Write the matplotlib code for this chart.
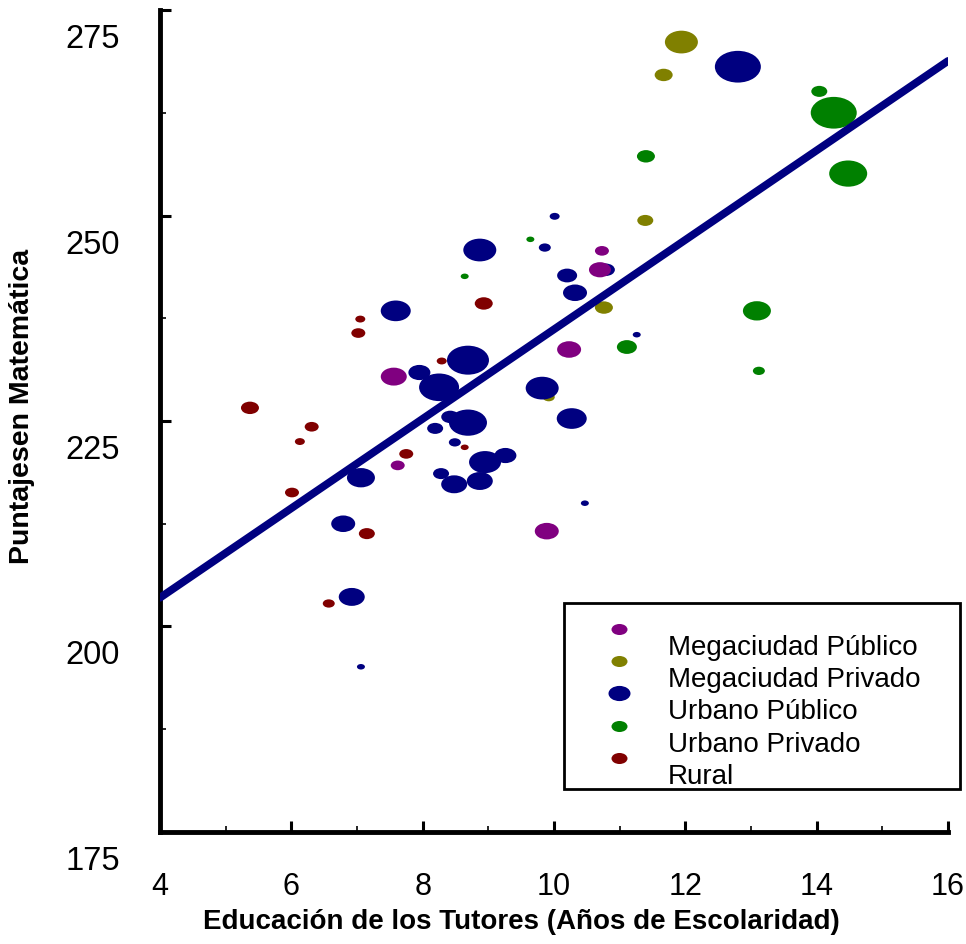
import numpy as np
import matplotlib
matplotlib.use("Agg")
import matplotlib.pyplot as plt
from matplotlib.path import Path
from matplotlib.transforms import ScaledTranslation

plt.rcParams['font.family'] = ['Liberation Sans', 'DejaVu Sans']

# ---- data ----
groups = ["Megaciudad Público", "Megaciudad Privado", "Urbano Público",
          "Urbano Privado", "Rural"]

mega_pub_x = [10.73, 10.70, 10.23, 7.56, 7.62, 9.89]
mega_pub_y = [245.7, 243.4, 233.7, 230.4, 219.6, 211.6]
mega_pub_size = [14, 22, 24, 26, 14, 24]

mega_priv_x = [11.94, 11.67, 11.39, 10.76, 9.92]
mega_priv_y = [271.1, 267.1, 249.4, 238.8, 227.9]
mega_priv_size = [33, 18, 16, 18, 12]

urb_pub_x = [12.80, 10.01, 8.87, 9.86, 10.79, 10.20, 10.32, 7.59, 11.26, 8.69,
             7.95, 8.25, 9.82, 10.27, 8.42, 8.69, 8.19, 8.49, 9.26, 8.95,
             8.28, 7.06, 8.48, 8.87, 10.47, 6.79, 6.92, 7.06]
urb_pub_y = [268.1, 249.9, 245.8, 246.1, 243.4, 242.7, 240.6, 238.4, 235.5, 232.4,
             230.9, 229.1, 229.0, 225.3, 225.5, 224.8, 224.1, 222.4, 220.8, 220.0,
             218.6, 218.1, 217.3, 217.7, 215.0, 212.5, 203.6, 195.1]
urb_pub_size = [46, 10, 33, 12, 18, 20, 24, 30, 8, 42,
                22, 40, 33, 30, 18, 38, 16, 12, 22, 32,
                16, 28, 26, 26, 8, 24, 26, 8]

urb_priv_x = [14.04, 14.26, 11.40, 14.48, 9.64, 8.64, 13.09, 11.11, 13.12]
urb_priv_y = [265.1, 262.5, 257.2, 255.1, 247.1, 242.6, 238.4, 234.0, 231.1]
urb_priv_size = [16, 46, 18, 38, 8, 8, 28, 20, 12]

rural_x = [8.93, 7.05, 7.02, 8.29, 5.37, 6.31, 6.13, 8.64, 7.75, 6.01, 7.15, 6.57]
rural_y = [239.3, 237.4, 235.7, 232.3, 226.6, 224.3, 222.5, 221.8, 221.0, 216.3, 211.3, 202.8]
rural_size = [18, 10, 14, 10, 18, 14, 10, 8, 14, 14, 16, 12]

# regression line end points
trend_x = [4, 16]
trend_y = [203.5, 268.8]

colors = ["#800080", "#808000", "#000080", "#008000", "#800000"]

# ellipse marker, wider than tall
circ = Path.unit_circle()
ell = Path(circ.vertices * np.array([1.0, 1 / 1.45]), circ.codes)

fig = plt.figure(figsize=(9.66, 9.44), dpi=100)
ax = fig.add_axes([160 / 966, 1 - 832 / 944, 788 / 966, 822 / 944])

def px2pt(w):
    return (np.array(w) * 0.72) ** 2

series = {
    "Megaciudad Público": (mega_pub_x, mega_pub_y, mega_pub_size),
    "Megaciudad Privado": (mega_priv_x, mega_priv_y, mega_priv_size),
    "Urbano Público": (urb_pub_x, urb_pub_y, urb_pub_size),
    "Urbano Privado": (urb_priv_x, urb_priv_y, urb_priv_size),
    "Rural": (rural_x, rural_y, rural_size),
}
# drawing order as in the original (purple lies over navy)
order = ["Megaciudad Privado", "Urbano Público", "Megaciudad Público",
         "Urbano Privado", "Rural"]
for name in order:
    x, y, s = series[name]
    ax.scatter(x, y, s=px2pt(s), marker=ell, color=colors[groups.index(name)],
               linewidths=0, zorder=2)

ax.plot(trend_x, trend_y, color="#000080", lw=5.6, zorder=3,
        solid_capstyle="round")

ax.set_xlim(4, 16)
ax.set_ylim(175, 275)
ax.set_xticks(np.arange(4, 17, 2))
ax.set_xticks(np.arange(5, 16, 2), minor=True)
ax.set_yticks(np.arange(175, 276, 25))
ax.set_yticks(np.arange(187.5, 275, 25), minor=True)

for side in ["top", "right"]:
    ax.spines[side].set_visible(False)
for side in ["left", "bottom"]:
    ax.spines[side].set_linewidth(3.5)
    ax.spines[side].set_capstyle("projecting")

ax.tick_params(which="major", direction="in", length=8, width=2.2,
               labelsize=22, pad=29)
ax.tick_params(axis="y", which="major", labelsize=23.5)
ax.tick_params(which="minor", direction="in", length=4, width=1.2)

# y tick labels sit lower than their ticks in the original
shift = ScaledTranslation(0, -0.26, fig.dpi_scale_trans)
for lab in ax.get_yticklabels():
    lab.set_transform(lab.get_transform() + shift)

ax.set_xlabel("Educación de los Tutores (Años de Escolaridad)",
              fontsize=20, fontweight="bold", va="center")
ax.xaxis.set_label_coords(0.459, -0.1095)
ax.set_ylabel("Puntajesen Matemática", fontsize=20.5, fontweight="bold",
              va="center")
ax.yaxis.set_label_coords(-0.175, 0.518)

# legend drawn by hand (markers sit half a row above the names)
box = plt.Rectangle((0.5127, 0.0523), 1.0152 - 0.5127, 0.2786 - 0.0523,
                    transform=ax.transAxes, fill=False, lw=2,
                    edgecolor="black", clip_on=False, zorder=5)
ax.add_patch(box)
leg_sizes = [16, 16, 22, 16, 16]
for i, name in enumerate(groups):
    ax.scatter([0.583], [0.247 - i * 0.0392], s=px2pt(leg_sizes[i]),
               marker=ell, color=colors[i], linewidths=0,
               transform=ax.transAxes, clip_on=False, zorder=6)
    ax.text(0.6447, 0.2153 - i * 0.0392, name, transform=ax.transAxes,
            fontsize=20, va="baseline", ha="left", zorder=6)

fig.savefig("out.png", dpi=100)
